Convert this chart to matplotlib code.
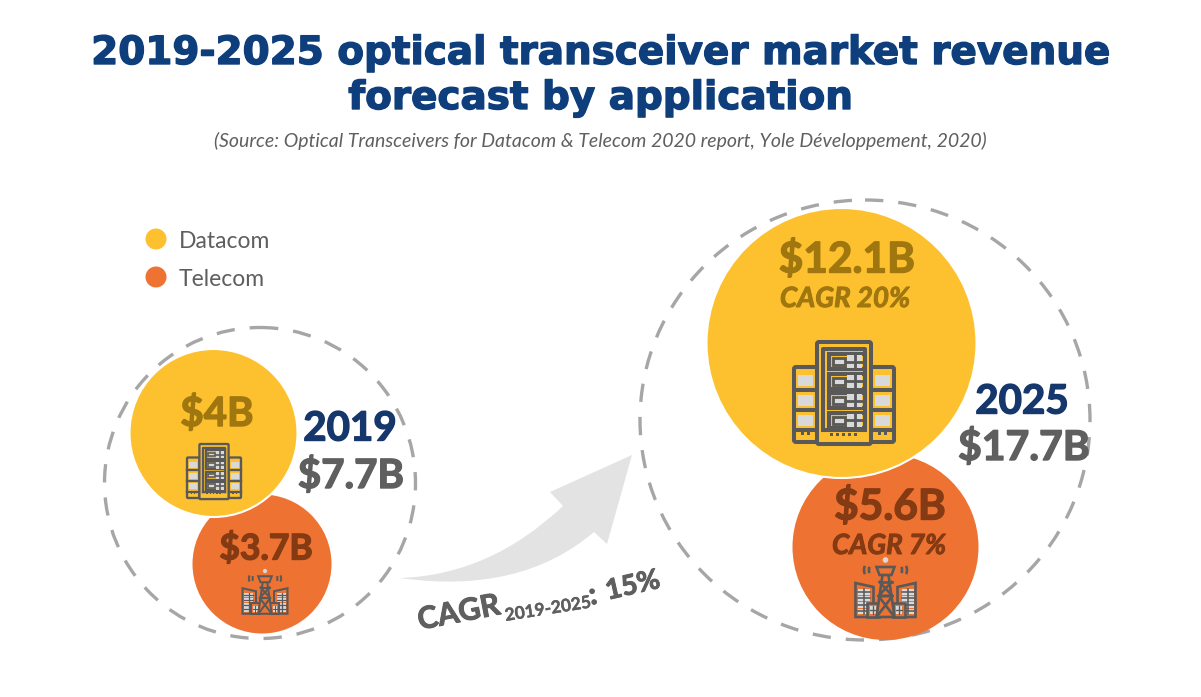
import matplotlib
matplotlib.use("Agg")
import matplotlib.pyplot as plt
import matplotlib.patheffects as pe
from matplotlib.patches import Circle, Ellipse, Rectangle, Polygon, PathPatch, FancyBboxPatch, Arc
from matplotlib.path import Path

W, H = 1201, 697

# data
title_lines = ["2019-2025 optical transceiver market revenue", "forecast by application"]
source = "(Source: Optical Transceivers for Datacom & Telecom 2020 report, Yole Développement, 2020)"
segments = ["Datacom", "Telecom"]
years = ["2019", "2025"]
totals = ["$7.7B", "$17.7B"]
datacom_labels = ["$4B", "$12.1B"]
telecom_labels = ["$3.7B", "$5.6B"]
datacom_cagr = "CAGR 20%"
telecom_cagr = "CAGR 7%"

YELLOW = "#FDC130"
ORANGE = "#EE7333"
DARK_YELLOW = "#A0760F"
DARK_ORANGE = "#843A12"
ICON = "#595959"
LIGHT = "#D9D9D9"
GREY = "#5F5F5F"
NAVY = "#16376C"
FONT = "Lato"

fig = plt.figure(figsize=(W / 100, H / 100), dpi=100)
ax = fig.add_axes([0, 0, 1, 1])
ax.set_xlim(0, W)
ax.set_ylim(H, 0)
ax.axis("off")


def txt(x, y, s, size, color, weight="bold", style="normal", rot=0, ha="center", heavy=0.0, family=FONT):
    t = ax.text(x, y, s, fontsize=size, color=color, family=family, fontweight=weight, fontstyle=style,
                rotation=rot, rotation_mode="anchor", ha=ha, va="center", zorder=10)
    if heavy:
        t.set_path_effects([pe.withStroke(linewidth=heavy, foreground=color)])
    return t


def rect(x, y, w, h, fc, lw, z=6):
    ax.add_patch(Rectangle((x, y), w, h, fc=fc, ec=ICON, lw=lw, zorder=z))


def grid_window(x, y, w, h, lw, z=8):
    ax.add_patch(Rectangle((x, y), w, h, fc=LIGHT, ec="none", zorder=z))
    ax.plot([x + w / 2, x + w / 2], [y, y + h], color=ICON, lw=lw, zorder=z + 1)
    ax.plot([x, x + w], [y + h / 2, y + h / 2], color=ICON, lw=lw, zorder=z + 1)


def building(cx, cy, k, fill):
    # drawn for the big icon, k scales it down
    lw = 2.7 * k + 0.2
    for side in (-1, 1):
        x0 = cx + (-50 if side < 0 else 27) * k
        ax.add_patch(FancyBboxPatch((x0 + 2 * k, cy - 23 * k), 19 * k, 71 * k, boxstyle="round,pad=%f" % (2 * k),
                                    fc=fill, ec=ICON, lw=lw, zorder=5))
        for i in range(3):
            yy = cy + (-17 + i * 20) * k
            ax.add_patch(Rectangle((x0 + 4 * k, yy), 15 * k, 11 * k, fc=LIGHT, ec="none", zorder=6))
            ax.plot([x0, x0 + 23 * k], [yy + 15 * k, yy + 15 * k], color=ICON, lw=lw, zorder=6)
        for i in range(2):
            ax.add_patch(Rectangle((x0 + (7 + 6 * i) * k, cy + 40 * k), 2.5 * k, 2.5 * k, fc=ICON, ec="none", zorder=6))
    ax.add_patch(FancyBboxPatch((cx - 25 * k, cy - 48 * k), 50 * k, 98 * k, boxstyle="round,pad=%f" % (2 * k),
                                fc=fill, ec=ICON, lw=lw, zorder=6))
    ax.plot([cx - 21 * k, cx - 21 * k, cx + 21 * k, cx + 21 * k], [cy + 38 * k, cy - 43 * k, cy - 43 * k, cy + 38 * k],
            color=ICON, lw=lw, zorder=7)
    for i in range(4):
        yy = cy + (-38 + i * 19.5) * k
        rect(cx - 15 * k, yy, 36 * k, 15 * k, fill, lw, 7)
        grid_window(cx + 3 * k, yy + 1 * k, 15 * k, 13 * k, lw * 0.7)
        rect(cx - 11 * k, yy + 4 * k, 12 * k, 7 * k, LIGHT, lw * 0.7, 8)
    ax.plot([cx - 21 * k, cx + 21 * k], [cy + 38 * k, cy + 38 * k], color=ICON, lw=lw, zorder=9)
    for i in range(5):
        ax.add_patch(Rectangle((cx + (-14 + 6 * i) * k, cy + 41 * k), 2.5 * k, 2.5 * k, fc=ICON, ec="none", zorder=8))


def tower(cx, cy, k, fill):
    lw = 1.7 * k + 0.2
    for side in (-1, 1):
        ax.add_patch(Polygon([(cx + side * 30 * k, cy + 29 * k), (cx + side * 30 * k, cy - 5 * k),
                              (cx + side * 12 * k, cy - 1 * k), (cx + side * 12 * k, cy + 29 * k)],
                             fc=fill, ec=ICON, lw=lw, zorder=5))
        for i in range(4):
            grid_window(cx + (side * 22 - 6) * k, cy + (1 + i * 6.5) * k, 12 * k, 5.5 * k, lw * 0.6, 6)
        rect(cx + side * 13 * k - 6 * k, cy + 15 * k, 12 * k, 14 * k, fill, lw, 7)
        grid_window(cx + side * 13 * k - 3 * k, cy + 18 * k, 6 * k, 8 * k, lw * 0.5, 8)
        for r_w, r_x in [(3, 15), (5, 19)]:
            ax.add_patch(Arc((cx + side * r_x * k, cy - 18 * k), r_w * k, 10 * k, theta1=-70 if side > 0 else 110,
                             theta2=70 if side > 0 else 250, color=ICON, lw=lw, zorder=8))
    ax.add_patch(Polygon([(cx - 9 * k, cy + 29 * k), (cx - 2 * k, cy - 20 * k), (cx + 2 * k, cy - 20 * k),
                          (cx + 9 * k, cy + 29 * k)], fc=fill, ec=ICON, lw=lw, zorder=8))
    ax.plot([cx - 6 * k, cx + 7 * k, cx - 7 * k, cx + 9 * k], [cy - 6 * k, cy + 8 * k, cy + 8 * k, cy + 29 * k],
            color=ICON, lw=lw, zorder=9)
    ax.plot([cx + 6 * k, cx - 7 * k, cx + 7 * k, cx - 9 * k], [cy - 6 * k, cy + 8 * k, cy + 8 * k, cy + 29 * k],
            color=ICON, lw=lw, zorder=9)
    ax.plot([cx - 6 * k, cx + 6 * k], [cy - 6 * k, cy - 6 * k], color=ICON, lw=lw, zorder=9)
    ax.add_patch(Polygon([(cx - 9 * k, cy - 21 * k), (cx + 9 * k, cy - 21 * k), (cx + 6 * k, cy - 13 * k),
                          (cx - 6 * k, cy - 13 * k)], fc=fill, ec=ICON, lw=lw, zorder=9))
    ax.add_patch(Circle((cx, cy - 28 * k), 2.8 * k, fc=LIGHT, ec="none", zorder=9))


# title
txt(600, 53, title_lines[0], 28, "#0E3F7C", family="DejaVu Sans", heavy=1.0)
txt(600, 98, title_lines[1], 28, "#0E3F7C", family="DejaVu Sans", heavy=1.0)
txt(600, 141, source, 14, GREY, weight="normal", style="italic")

# legend
for yy, name, col in zip([239, 277], segments, [YELLOW, ORANGE]):
    ax.add_patch(Circle((156, yy), 10.5, fc=col, ec="none"))
    txt(179, yy + 2, name, 16.5, GREY, weight="normal", ha="left")

# outer dashed circles
ax.add_patch(Ellipse((260, 483), 311, 311, fill=False, ec="#A6A6A6", lw=2.4, ls=(0, (5.5, 4.5)), zorder=1))
ax.add_patch(Ellipse((865, 420), 450, 440, fill=False, ec="#A6A6A6", lw=2.4, ls=(0, (5.5, 4.5)), zorder=1))

# bubbles, yellow sits above orange with a thin white rim
ax.add_patch(Circle((262, 564), 69.5, fc=ORANGE, ec="none", zorder=2))
ax.add_patch(Circle((885.5, 547), 93, fc=ORANGE, ec="none", zorder=2))
ax.add_patch(Circle((213.5, 433), 84, fc=YELLOW, ec="white", lw=1.5, zorder=3))
ax.add_patch(Circle((841.5, 343), 135, fc=YELLOW, ec="white", lw=1.5, zorder=3))

building(214, 471, 0.54, YELLOW)
building(844, 392, 1.0, YELLOW)
tower(265, 592, 0.75, ORANGE)
tower(885.5, 588, 1.0, ORANGE)

# labels
txt(217, 414, datacom_labels[0], 29, DARK_YELLOW, heavy=1.0)
txt(847, 260, datacom_labels[1], 30.5, DARK_YELLOW, heavy=1.0)
txt(845, 299, datacom_cagr, 20, DARK_YELLOW, style="italic", heavy=0.7)
txt(266, 549, telecom_labels[0], 25.5, DARK_ORANGE, heavy=1.0)
txt(890, 507, telecom_labels[1], 30.5, DARK_ORANGE, heavy=1.0)
txt(889, 546, telecom_cagr, 20, DARK_ORANGE, style="italic", heavy=0.7)

txt(350, 429, years[0], 29, NAVY, heavy=1.0)
txt(351, 476, totals[0], 29, GREY, heavy=1.0)
txt(1022, 402, years[1], 29, NAVY, heavy=1.0)
txt(1024, 448, totals[1], 29.5, GREY, heavy=1.0)

# growth arrow
arrow_v = [(400, 578), (490, 575), (563, 506), (550, 492), (632, 455), (607, 544), (594, 532), (520, 595), (400, 578),
           (400, 578)]
arrow_c = [Path.MOVETO, Path.CURVE3, Path.CURVE3, Path.LINETO, Path.LINETO, Path.LINETO, Path.LINETO, Path.CURVE3,
           Path.CURVE3, Path.CLOSEPOLY]
ax.add_patch(PathPatch(Path(arrow_v, arrow_c), fc="#E3E3E3", ec="none", zorder=1))

txt(418, 621, "CAGR", 22, GREY, rot=11, ha="left", heavy=0.7)
txt(505, 616, "2019-2025", 12.5, GREY, rot=9, ha="left", heavy=0.3)
txt(589, 596, ":", 22, GREY, rot=11, ha="left", heavy=0.7)
txt(606, 592, "15%", 20, GREY, rot=13, ha="left", heavy=0.7)

fig.savefig("out.png", dpi=100, facecolor="white")
